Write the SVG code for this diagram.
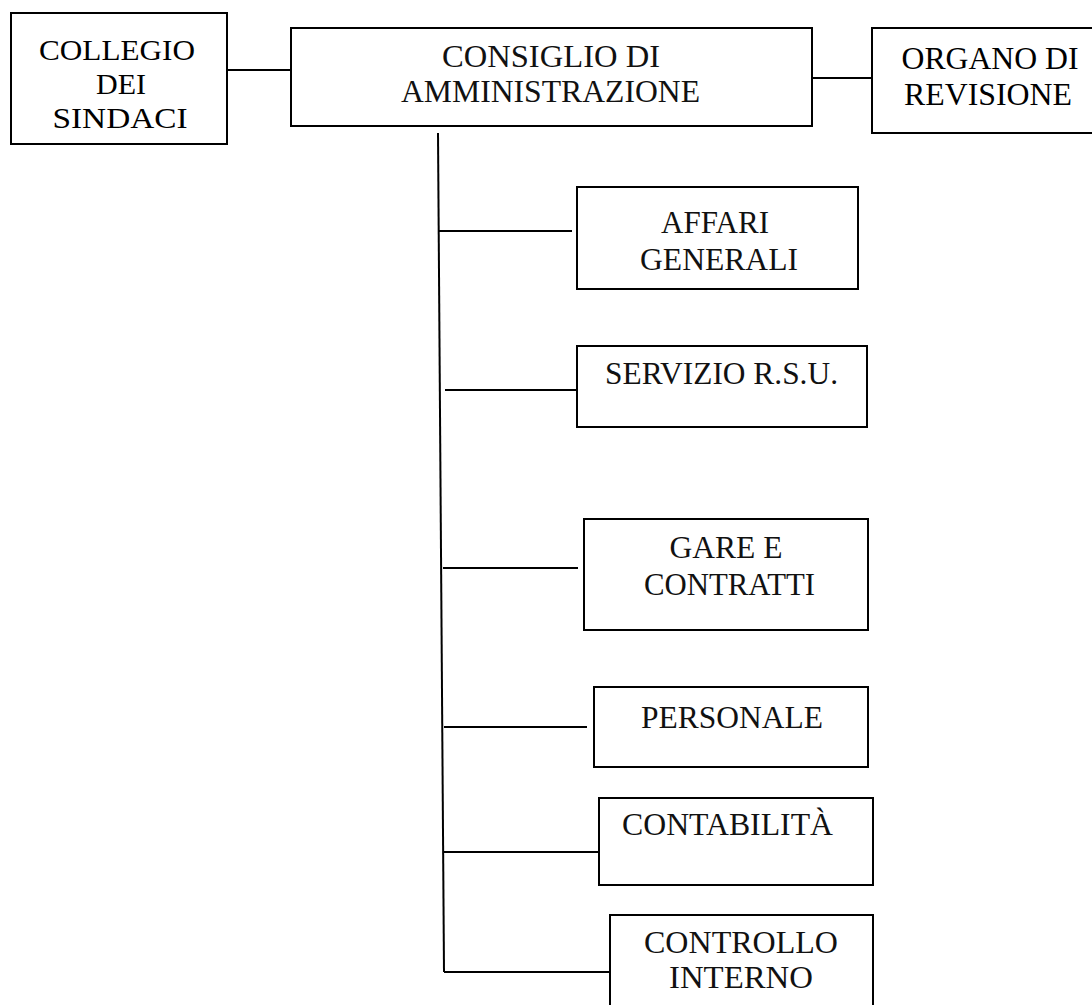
<svg xmlns="http://www.w3.org/2000/svg" width="1092" height="1005" viewBox="0 0 1092 1005">
<style>
  .box { fill: #ffffff; stroke: #000000; stroke-width: 2; }
  .conn { fill: none; stroke: #000000; stroke-width: 2; }
  .tnr { font-family: "Liberation Serif", "Times New Roman", serif; fill: #000000; text-anchor: middle; }
  .gar { font-family: "Liberation Serif", "Times New Roman", serif; fill: #111111; text-anchor: middle; font-size: 31px; }
</style>
<rect x="0" y="0" width="1092" height="1005" fill="#ffffff"/>
<g id="connectors">
  <line class="conn" x1="227" y1="70" x2="291" y2="70"/>
  <line class="conn" x1="812" y1="78" x2="872" y2="78"/>
  <line class="conn" x1="438" y1="133" x2="444" y2="972"/>
  <line class="conn" x1="439" y1="231" x2="572" y2="231"/>
  <line class="conn" x1="445" y1="390" x2="577" y2="390"/>
  <line class="conn" x1="443" y1="568" x2="578" y2="568"/>
  <line class="conn" x1="444" y1="727" x2="587" y2="727"/>
  <line class="conn" x1="444" y1="852" x2="599" y2="852"/>
  <line class="conn" x1="444" y1="972" x2="610" y2="972"/>
</g>
<g id="collegio">
  <rect class="box" x="11" y="13" width="216" height="131"/>
  <text class="tnr" font-size="30" x="117" y="60" textLength="156" lengthAdjust="spacingAndGlyphs">COLLEGIO</text>
  <text class="tnr" font-size="30" x="121" y="94">DEI</text>
  <text class="tnr" font-size="30" x="120" y="128" textLength="135" lengthAdjust="spacingAndGlyphs">SINDACI</text>
</g>
<g id="consiglio">
  <rect class="box" x="291" y="28" width="521" height="98"/>
  <text class="gar" x="551" y="67" textLength="218" lengthAdjust="spacingAndGlyphs">CONSIGLIO DI</text>
  <text class="gar" x="550.5" y="102" textLength="299" lengthAdjust="spacingAndGlyphs">AMMINISTRAZIONE</text>
</g>
<g id="organo">
  <rect class="box" x="872" y="28" width="240" height="105"/>
  <text class="tnr" font-size="32" x="990" y="69" textLength="177" lengthAdjust="spacingAndGlyphs">ORGANO DI</text>
  <text class="tnr" font-size="32" x="988" y="105" textLength="168" lengthAdjust="spacingAndGlyphs">REVISIONE</text>
</g>
<g id="affari">
  <rect class="box" x="577" y="187" width="281" height="102"/>
  <text class="gar" x="715" y="233" textLength="108" lengthAdjust="spacingAndGlyphs">AFFARI</text>
  <text class="gar" x="719" y="270" textLength="158" lengthAdjust="spacingAndGlyphs">GENERALI</text>
</g>
<g id="servizio">
  <rect class="box" x="577" y="346" width="290" height="81"/>
  <text class="gar" x="721.5" y="384" textLength="233" lengthAdjust="spacingAndGlyphs">SERVIZIO R.S.U.</text>
</g>
<g id="gare">
  <rect class="box" x="584" y="519" width="284" height="111"/>
  <text class="gar" x="726" y="558" textLength="113" lengthAdjust="spacingAndGlyphs">GARE E</text>
  <text class="gar" x="729.5" y="595" textLength="171" lengthAdjust="spacingAndGlyphs">CONTRATTI</text>
</g>
<g id="personale">
  <rect class="box" x="594" y="687" width="274" height="80"/>
  <text class="gar" x="732" y="728" textLength="182" lengthAdjust="spacingAndGlyphs">PERSONALE</text>
</g>
<g id="contabilita">
  <rect class="box" x="599" y="798" width="274" height="87"/>
  <text class="gar" x="727.5" y="835" textLength="211" lengthAdjust="spacingAndGlyphs">CONTABILITÀ</text>
</g>
<g id="controllo">
  <rect class="box" x="610" y="915" width="263" height="110"/>
  <text class="gar" x="741" y="953" textLength="194" lengthAdjust="spacingAndGlyphs">CONTROLLO</text>
  <text class="gar" x="741" y="988" textLength="144" lengthAdjust="spacingAndGlyphs">INTERNO</text>
</g>
</svg>
